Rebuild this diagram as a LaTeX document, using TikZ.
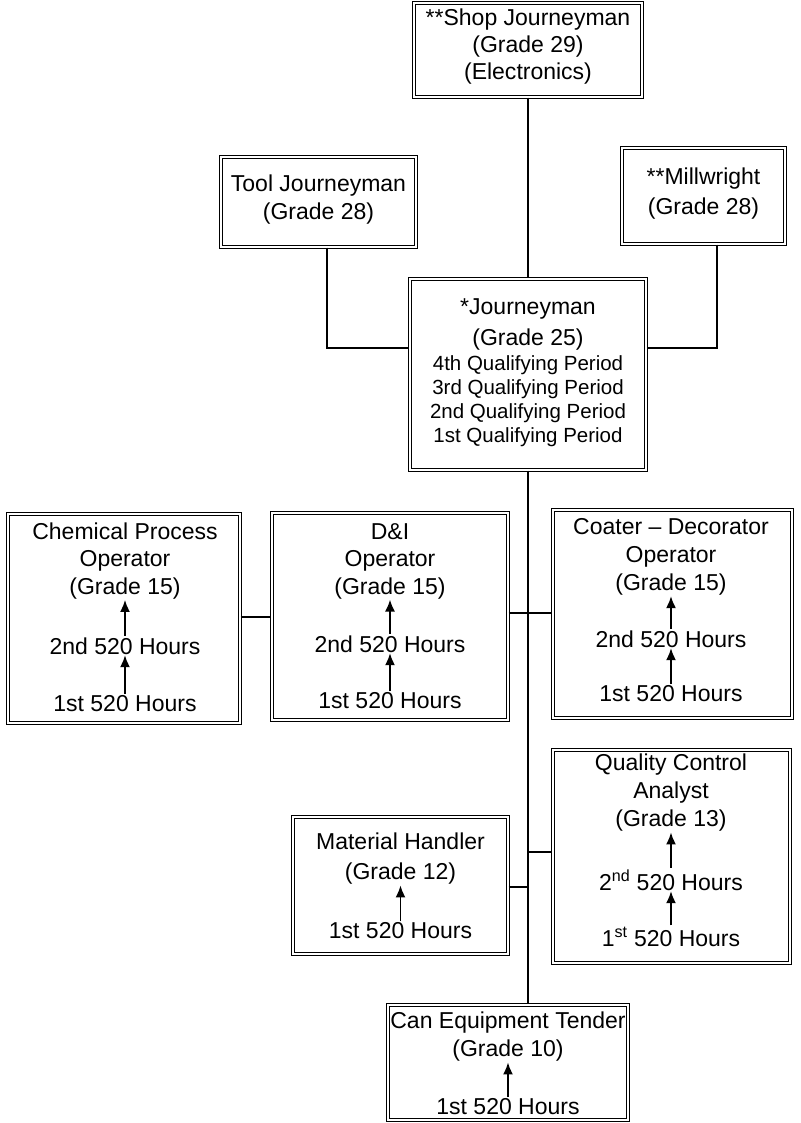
\documentclass[tikz,border=0pt]{standalone}
\usepackage{fontspec}
\setmainfont{Liberation Sans}
\usetikzlibrary{arrows.meta}
\begin{document}
\begin{tikzpicture}[x=1pt,y=-1pt,
  box/.style={draw, double, double distance=1.8pt, line width=1.1pt, inner sep=0pt},
  txt/.style={font=\fontsize{23}{#1}\selectfont, align=center, inner sep=0.5pt},
  txt/.default=28,
  small/.style={font=\fontsize{20.5}{24}\selectfont, align=center, inner sep=0.5pt},
  arr/.style={-{Latex[length=12pt,width=10pt]}, line width=1.8pt, shorten <=1pt},
  link/.style={line width=1.6pt}]
\useasboundingbox (0,0) rectangle (800,1123);
\fill[white] (0,0) rectangle (800,1123);

% boxes
\node[box, minimum width=228pt, minimum height=94pt] (shop) at (528,50) {};
\node[box, minimum width=195pt, minimum height=90pt] (tool) at (318.5,202) {};
\node[box, minimum width=163pt, minimum height=96pt] (mill) at (703.5,196) {};
\node[box, minimum width=236pt, minimum height=191pt] (jour) at (528,374.5) {};
\node[box, minimum width=232pt, minimum height=209pt] (chem) at (124,618.5) {};
\node[box, minimum width=236pt, minimum height=207pt] (dni) at (390,616.5) {};
\node[box, minimum width=239pt, minimum height=208pt] (coat) at (672.5,614) {};
\node[box, minimum width=215pt, minimum height=137pt] (mh) at (400.5,885.5) {};
\node[box, minimum width=237pt, minimum height=213pt] (qc) at (671.5,856.5) {};
\node[box, minimum width=240pt, minimum height=115pt] (can) at (508,1062.5) {};

% texts
\node[txt=27] (shopT) at (528,47) {**Shop Journeyman\\(Grade 29)\\(Electronics)};
\node[txt=28] (toolT) at (318.5,200) {Tool Journeyman\\(Grade 28)};
\node[txt=30] (millT) at (703.5,194) {**Millwright\\(Grade 28)};
\node[txt=31] (jourT) at (528,324) {*Journeyman\\(Grade 25)};
\node[small] (jourQ) at (528,401) {4th Qualifying Period\\3rd Qualifying Period\\2nd Qualifying Period\\1st Qualifying Period};

\node[txt=27.5] (chemT) at (125,561) {Chemical Process\\Operator\\(Grade 15)};
\node[txt] (chem2) at (125,646) {2nd 520 Hours};
\node[txt] (chem1) at (125,704) {1st 520 Hours};

\node[txt=27.5] (dniT) at (390,561) {D\&I\\Operator\\(Grade 15)};
\node[txt] (dni2) at (390,644) {2nd 520 Hours};
\node[txt] (dni1) at (390,701) {1st 520 Hours};

\node[txt=28] (coatT) at (671,557) {Coater – Decorator\\Operator\\(Grade 15)};
\node[txt] (coat2) at (671,639) {2nd 520 Hours};
\node[txt] (coat1) at (671,694) {1st 520 Hours};

\node[txt=28] (qcT) at (671,793) {Quality Control\\Analyst\\(Grade 13)};
\node[txt] (qc2) at (671,880) {2\textsuperscript{nd} 520 Hours};
\node[txt] (qc1) at (671,937) {1\textsuperscript{st} 520 Hours};

\node[txt=30] (mhT) at (400.5,859) {Material Handler\\(Grade 12)};
\node[txt] (mh1) at (400.5,931) {1st 520 Hours};

\node[txt=28] (canT) at (508,1037) {Can Equipment Tender\\(Grade 10)};
\node[txt] (can1) at (508,1107) {1st 520 Hours};

% arrows inside boxes
\draw[arr] (chem1.north) -- (chem2.south);
\draw[arr] (chem2.north) -- (chemT.south);
\draw[arr] (dni1.north) -- (dni2.south);
\draw[arr] (dni2.north) -- (dniT.south);
\draw[arr] (coat1.north) -- (coat2.south);
\draw[arr] (coat2.north) -- (coatT.south);
\draw[arr] (qc1.north) -- (qc2.south);
\draw[arr] (qc2.north) -- (qcT.south);
\draw[arr] (mh1.north) -- (mhT.south);
\draw[arr] (can1.north) -- (canT.south);

% connectors
\coordinate (tj) at (327,348);
\coordinate (mj) at (717,348);
\coordinate (r3a) at (0,617);
\coordinate (r3b) at (0,613);
\coordinate (qcy) at (0,852);
\coordinate (mhy) at (0,887);
\draw[link] (shop.south) -- (jour.north);
\draw[link] (jour.south) -- (jour.south |- can.north);
\draw[link] (tool.south -| tj) -- (tj) -- (tj -| jour.west);
\draw[link] (mill.south -| mj) -- (mj) -- (mj -| jour.east);
\draw[link] (chem.east |- r3a) -- (dni.west |- r3a);
\draw[link] (dni.east |- r3b) -- (coat.west |- r3b);
\draw[link] (mh.east |- mhy) -- (jour.south |- mhy);
\draw[link] (jour.south |- qcy) -- (qc.west |- qcy);
\end{tikzpicture}
\end{document}
